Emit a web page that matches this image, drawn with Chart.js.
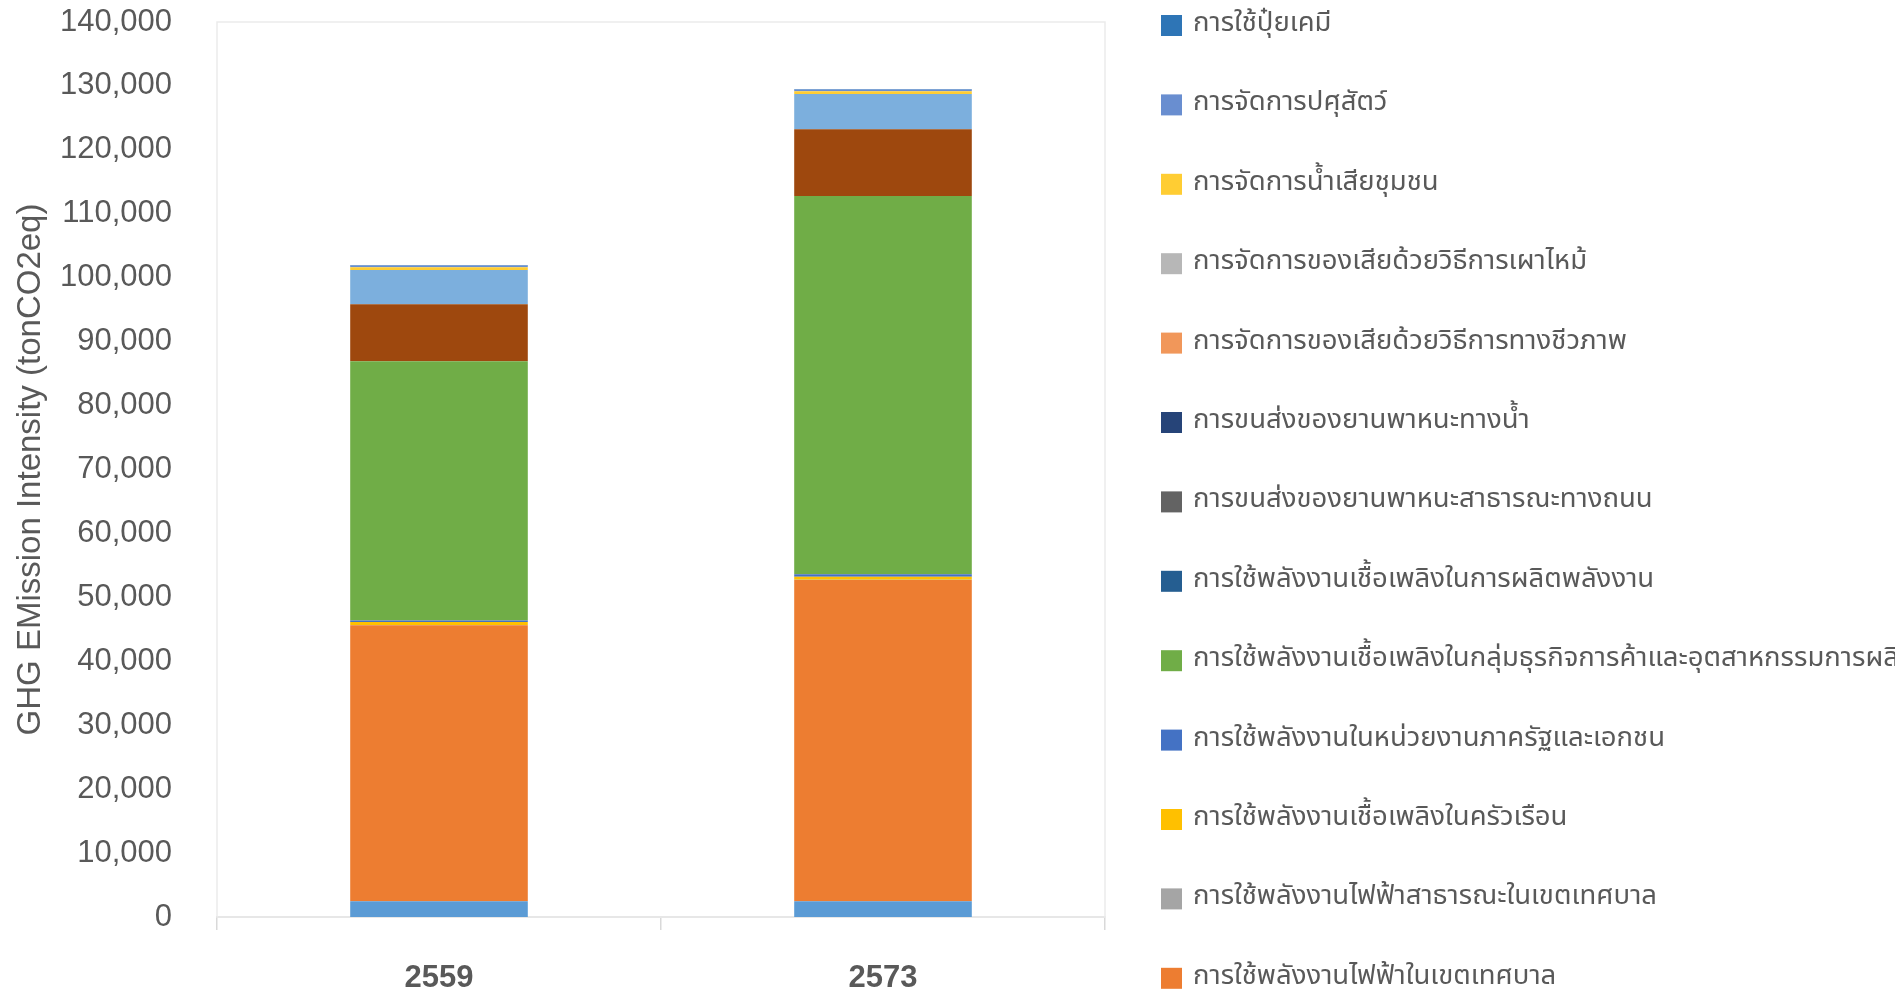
<!DOCTYPE html>
<html lang="th">
<head>
<meta charset="utf-8">
<title>GHG Emission</title>
<script src="https://cdn.jsdelivr.net/npm/chart.js@4.4.1/dist/chart.umd.min.js"></script>
<style>
  html, body { margin: 0; padding: 0; background: #ffffff; }
  #Chart-Box { position: relative; width: 1895px; height: 990px; }
</style>
</head>
<body>
<div id="Chart-Box"><canvas id="myChart"></canvas></div>
<script>
// * Data (tonCO2eq, stacked bottom to top)
const years = ["2559", "2573"];
const yTicks = [0, 10000, 20000, 30000, 40000, 50000, 60000, 70000, 80000, 90000, 100000, 110000, 120000, 130000, 140000];

const otherSourceA = [2450, 2450];
const municipalElectricity = [43180, 50260];
const publicElectricity = [30, 40];
const householdFuel = [470, 480];
const officeEnergy = [250, 380];
const industryFuel = [40540, 59170];
const powerGenFuel = [0, 0];
const otherSourceB = [8920, 10430];
const roadTransport = [0, 0];
const waterTransport = [0, 0];
const otherSourceC = [5370, 5520];
const bioWaste = [0, 0];
const burnWaste = [0, 0];
const wastewater = [420, 420];
const livestock = [280, 280];
const fertilizer = [80, 80];

// * Series table: label ("" = kept out of the legend), values, colour
const seriesList = [
  ["", otherSourceA, "#5B9BD5"],
  ["การใช้พลังงานไฟฟ้าในเขตเทศบาล", municipalElectricity, "#ED7D31"],
  ["การใช้พลังงานไฟฟ้าสาธารณะในเขตเทศบาล", publicElectricity, "#A5A5A5"],
  ["การใช้พลังงานเชื้อเพลิงในครัวเรือน", householdFuel, "#FFC000"],
  ["การใช้พลังงานในหน่วยงานภาครัฐและเอกชน", officeEnergy, "#4472C4"],
  ["การใช้พลังงานเชื้อเพลิงในกลุ่มธุรกิจการค้าและอุตสาหกรรมการผลิต", industryFuel, "#70AD47"],
  ["การใช้พลังงานเชื้อเพลิงในการผลิตพลังงาน", powerGenFuel, "#255E91"],
  ["", otherSourceB, "#9E480E"],
  ["การขนส่งของยานพาหนะสาธารณะทางถนน", roadTransport, "#636363"],
  ["การขนส่งของยานพาหนะทางน้ำ", waterTransport, "#264478"],
  ["", otherSourceC, "#7CAFDD"],
  ["การจัดการของเสียด้วยวิธีการทางชีวภาพ", bioWaste, "#F1975A"],
  ["การจัดการของเสียด้วยวิธีการเผาไหม้", burnWaste, "#B7B7B7"],
  ["การจัดการน้ำเสียชุมชน", wastewater, "#FFCD33"],
  ["การจัดการปศุสัตว์", livestock, "#698ED0"],
  ["การใช้ปุ๋ยเคมี", fertilizer, "#2E75B6"],
];

const textColor = "#595959";
const axisFont = '"Liberation Sans", Arial, sans-serif';

// * Plugins
// light frame round the plot area
const plotFrame = {
  id: "plotFrame",
  beforeDatasetsDraw(chart) {
    const { ctx, chartArea } = chart;
    ctx.save();
    ctx.strokeStyle = "#ebebeb";
    ctx.lineWidth = 1.5;
    ctx.strokeRect(chartArea.left, chartArea.top, chartArea.right - chartArea.left, chartArea.bottom - chartArea.top);
    ctx.restore();
  },
};

// legend down the right side, top of the stack first
const sideLegend = {
  id: "sideLegend",
  afterDraw(chart, args, opts) {
    const ctx = chart.ctx;
    const items = chart.data.datasets.filter((d) => d.label !== "").reverse();
    ctx.save();
    ctx.font = opts.font;
    ctx.textBaseline = "middle";
    items.forEach((d, i) => {
      const y = opts.top + i * opts.step;
      ctx.fillStyle = d.backgroundColor;
      ctx.fillRect(opts.left, y - opts.boxHeight / 2, opts.boxWidth, opts.boxHeight);
      ctx.fillStyle = textColor;
      ctx.fillText(d.label, opts.left + opts.boxWidth + opts.gap, y);
    });
    ctx.restore();
  },
};

// * Chart
function createChart() {
  const Canvas = document.getElementById("myChart").getContext("2d");

  const datasets = seriesList.map(([label, values, color]) => ({
    label: label,
    data: values,
    backgroundColor: color,
    borderWidth: 0,
    barPercentage: 0.4,
    categoryPercentage: 1.0,
  }));

  return new Chart(Canvas, {
    type: "bar",
    data: { labels: years, datasets: datasets },
    plugins: [plotFrame, sideLegend],
    options: {
      responsive: true,
      maintainAspectRatio: false,
      animation: false,
      layout: { padding: { left: 0, top: 22, right: 790, bottom: 0 } },
      plugins: {
        legend: { display: false },
        tooltip: { enabled: false },
        sideLegend: {
          left: 1161,
          top: 25.5,
          step: 79.4,
          boxWidth: 21,
          boxHeight: 21,
          gap: 11,
          font: '27.5px "Noto Sans Thai", "Noto Sans", sans-serif',
        },
      },
      scales: {
        x: {
          stacked: true,
          afterFit: (scale) => { scale.height = 73; },
          grid: {
            offset: true,
            drawOnChartArea: false,
            drawTicks: true,
            tickLength: 13,
            color: "#d9d9d9",
            lineWidth: 1.5,
          },
          border: { display: true, color: "#d9d9d9", width: 2 },
          ticks: {
            color: textColor,
            padding: 30,
            font: { family: axisFont, size: 31, weight: "bold" },
          },
        },
        y: {
          stacked: true,
          min: 0,
          max: 140000,
          // fixed width; tick padding should not push the plot down
          afterFit: (scale) => {
            scale.width = 217;
            scale.paddingTop = 0;
            scale.paddingBottom = 0;
          },
          afterBuildTicks: (scale) => { scale.ticks = yTicks.map((v) => ({ value: v })); },
          grid: { display: false, drawTicks: false },
          border: { display: false },
          ticks: {
            color: textColor,
            padding: 45,
            font: { family: axisFont, size: 31 },
            callback: (value) => value.toLocaleString("en-US"),
          },
          title: {
            display: true,
            text: "GHG EMission Intensity (tonCO2eq)",
            color: textColor,
            padding: { top: 11, bottom: 0 },
            font: { family: axisFont, size: 33 },
          },
        },
      },
    },
  });
}

// * Onload
createChart();
</script>
</body>
</html>
